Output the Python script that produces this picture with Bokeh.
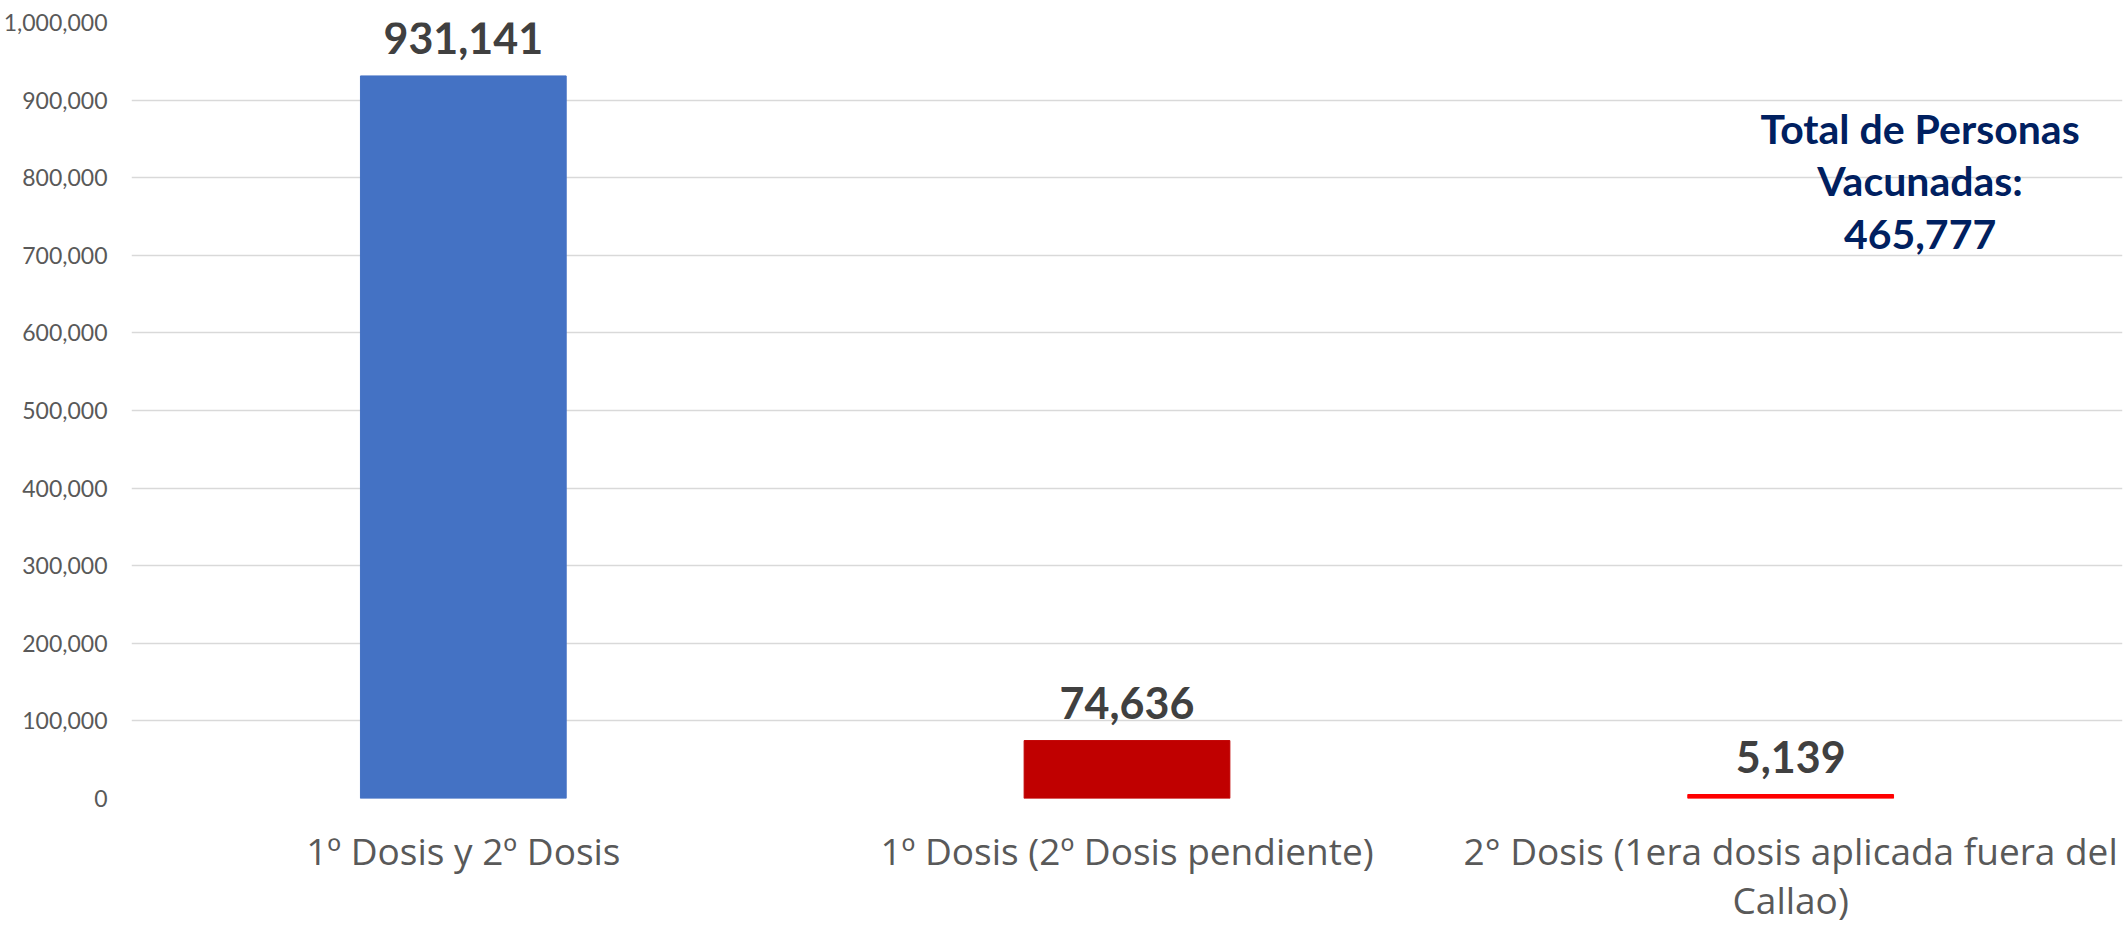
from bokeh.plotting import figure
from bokeh.models import (ColumnDataSource, FactorRange, Range1d, FixedTicker,
                          NumeralTickFormatter, Label, LabelSet)
from bokeh.core.properties import value
from bokeh.embed import file_html
from bokeh.resources import INLINE

# ---- data ----
categories = ["1º Dosis y 2º Dosis",
              "1º Dosis (2º Dosis pendiente)",
              "2° Dosis (1era dosis aplicada fuera del\nCallao)"]
values = [931141, 74636, 5139]
bar_colors = ["#4472C4", "#C00000", "#FF0000"]
y_ticks = [0, 100000, 200000, 300000, 400000, 500000,
           600000, 700000, 800000, 900000, 1000000]
total_title = "Total de Personas\nVacunadas:"
total_value = 465777

FONT = "Lato"
XFONT = "Open Sans"

src = ColumnDataSource(dict(
    cat=categories,
    val=values,
    color=bar_colors,
    label=[f"{v:,}" for v in values],
))

p = figure(width=2126, height=927, output_backend="svg", toolbar_location=None,
           x_range=FactorRange(*categories, range_padding=0),
           y_range=Range1d(0, 1000000))
p.min_border_left = 131
p.min_border_right = 4
p.min_border_top = 22
p.min_border_bottom = 0
p.outline_line_color = None
p.background_fill_color = "white"
p.border_fill_color = "white"

p.vbar(x="cat", top="val", width=0.31, color="color", source=src)

labels = LabelSet(x="cat", y="val", text="label", source=src,
                  text_align="center", text_baseline="alphabetic", y_offset=22,
                  text_font=value(FONT), text_font_style="bold",
                  text_font_size="43px", text_color="#404040")
p.add_layout(labels)

# axes
p.yaxis.ticker = FixedTicker(ticks=y_ticks)
p.yaxis.formatter = NumeralTickFormatter(format="0,0")
p.yaxis.axis_line_color = None
p.yaxis.major_tick_line_color = None
p.yaxis.minor_tick_line_color = None
p.yaxis.major_label_text_font = FONT
p.yaxis.major_label_text_font_size = "23px"
p.yaxis.major_label_text_color = "#595959"
p.yaxis.major_label_standoff = 18

p.xaxis.axis_line_color = None
p.xaxis.major_tick_line_color = None
p.xaxis.major_tick_in = 0
p.xaxis.major_tick_out = 0
p.xaxis.major_label_text_font = XFONT
p.xaxis.major_label_text_font_size = "37px"
p.xaxis.major_label_text_color = "#595959"
p.xaxis.major_label_standoff = 26
p.xaxis.major_label_text_line_height = 0.97

p.xgrid.grid_line_color = None
p.ygrid.grid_line_color = "#D9D9D9"
p.ygrid.grid_line_width = 1.5

ann = Label(x=2.695, y=796000,
            text=f"{total_title}\n{total_value:,}",
            text_align="center", text_baseline="middle",
            text_font=FONT, text_font_style="bold",
            text_font_size="41px", text_color="#002060",
            text_line_height=1.07)
p.add_layout(ann)

open("out.html", "w").write(file_html(p, INLINE))
